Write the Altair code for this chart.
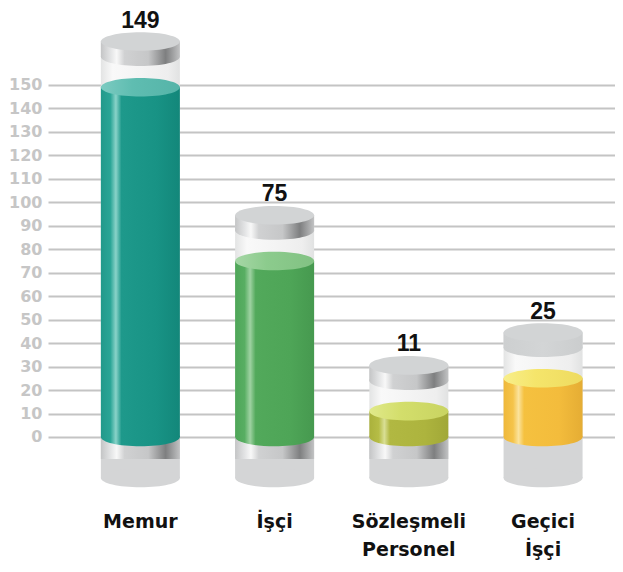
import altair as alt
import pandas as pd

categories = ["Memur", "İşçi", "Sözleşmeli Personel", "Geçici İşçi"]
values = [149, 75, 11, 25]
y_ticks = list(range(0, 151, 10))

df = pd.DataFrame({"cat": categories, "value": values})

# style palette (side gradient colours, top face colour)
PALETTE = {
    "Memur": {"side": ["#22998b", "#2aa596", "#8ad3c9", "#1e998b", "#189385", "#13877a"],
              "top": ["#7ccbc1", "#5fbdb1", "#55b4a8"]},
    "İşçi": {"side": ["#4ea658", "#58ae62", "#9fd2a2", "#52a95b", "#4ea557", "#46994f"],
             "top": ["#a6d7a6", "#8ccb8d", "#82c283"]},
    "Sözleşmeli Personel": {"side": ["#aab13c", "#b6bd46", "#d9df95", "#b1b842", "#adb43e", "#a1a837"],
                            "top": ["#e0e98a", "#d3de6b", "#c9d462"]},
    "Geçici İşçi": {"side": ["#efb83a", "#f5c44a", "#fbe39c", "#f5c13f", "#f3bc3c", "#e5ad34"],
                    "top": ["#f8ee8a", "#f5e56b", "#eedb60"]},
}


def hgrad(stops):
    return alt.Gradient(
        gradient="linear", x1=0, x2=1, y1=0, y2=0,
        stops=[alt.GradientStop(offset=o, color=c) for o, c in stops],
    )


def side_grad(c):
    return hgrad([(0, c[0]), (0.12, c[1]), (0.19, c[2]), (0.26, c[3]), (0.7, c[4]), (1, c[5])])


def top_grad(c):
    return hgrad([(0, c[0]), (0.4, c[1]), (1, c[2])])


SILVER = hgrad([(0, "#c4c5c6"), (0.12, "#e2e3e4"), (0.2, "#f8f8f8"), (0.3, "#d0d1d2"),
                (0.6, "#c6c7c8"), (0.82, "#7e7f80"), (0.92, "#a3a4a5"), (1, "#c2c3c4")])
GLASS = hgrad([(0, "#e3e4e4"), (0.15, "#f9f9f9"), (0.5, "#f4f4f4"), (0.85, "#eeeeee"), (1, "#e1e2e2")])
GRAY = "#d4d5d6"
CAPGRAY = hgrad([(0, "#cdcfd0"), (0.5, "#d3d5d6"), (1, "#cbcdce")])

k = 0.235
c = 0.552 * k
ELL = (f"M -1 0 C -1 {-c:.4f} -0.552 {-k} 0 {-k} C 0.552 {-k} 1 {-c:.4f} 1 0 "
       f"C 1 {c:.4f} 0.552 {k} 0 {k} C -0.552 {k} -1 {c:.4f} -1 0 Z")
W = 79
ESIZE = W * W

X = alt.X(
    "cat:N", sort=categories,
    scale=alt.Scale(paddingInner=0, paddingOuter=0.112, align=0.84),
    axis=alt.Axis(title=None, domain=False, ticks=False, grid=False, labelAngle=0,
                  labelPadding=22, labelFont="DejaVu Sans", labelFontSize=19,
                  labelFontWeight="bold", labelColor="#111111", labelLineHeight=28,
                  labelLimit=300, labelExpr="split(datum.label, ' ')"),
)
YSCALE = alt.Scale(domain=[-22.6, 181.1], nice=False, zero=False)
YAXIS = alt.Axis(values=y_ticks, title=None, grid=True, gridColor="#c4c4c4", gridWidth=2,
                 domain=False, ticks=False, labelPadding=6, labelFont="DejaVu Sans",
                 labelFontSize=16, labelFontWeight="bold", labelColor="#c6c6c6")


def Y(field):
    return alt.Y(field, type="quantitative", scale=YSCALE, axis=YAXIS)


base = alt.Chart(df).transform_calculate(
    cap="datum.value + 19.5",
    capLo="datum.value + 13",
    zero="0",
    baseY="-17.5",
    bandY="-9.4",
)


def ellipse(field, color):
    return base.mark_point(shape=ELL, size=ESIZE, filled=True, opacity=1, strokeWidth=0,
                           color=color).encode(x=X, y=Y(field))


def rect(lo, hi, color):
    return base.mark_bar(size=W, color=color).encode(x=X, y=Y(lo), y2=alt.Y2(hi))


layers = []
# glass tube
layers.append(rect("zero", "cap", GLASS))
# base
layers.append(rect("baseY", "zero", GRAY))
layers.append(ellipse("baseY", GRAY))
# silver band at bottom (not on last)
layers.append(rect("bandY", "zero", SILVER).transform_filter(alt.datum.cat != "Geçici İşçi"))

# liquids
for cat in categories:
    p = PALETTE[cat]
    sg = side_grad(p["side"])
    tg = top_grad(p["top"])
    f = alt.datum.cat == cat
    layers.append(ellipse("zero", sg).transform_filter(f))
    layers.append(rect("zero", "value", sg).transform_filter(f))
    layers.append(ellipse("value", tg).transform_filter(f))

# caps
notlast = alt.datum.cat != "Geçici İşçi"
last = alt.datum.cat == "Geçici İşçi"
layers.append(ellipse("capLo", SILVER).transform_filter(notlast))
layers.append(rect("capLo", "cap", SILVER).transform_filter(notlast))
layers.append(ellipse("capLo", CAPGRAY).transform_filter(last))
layers.append(rect("capLo", "cap", CAPGRAY).transform_filter(last))
layers.append(ellipse("cap", "#d2d4d5"))

# value labels
layers.append(
    base.mark_text(font="Liberation Sans", fontSize=23, fontWeight="bold",
                   baseline="alphabetic", dy=-14, color="#111111")
    .encode(x=X, y=Y("cap"), text=alt.Text("value:Q"))
)

chart = alt.layer(*layers).properties(
    width=567, height=478,
    padding={"left": 40, "top": 4, "right": 0, "bottom": 74},
    autosize=alt.AutoSizeParams(type="none"),
).configure_view(stroke=None)

chart.save("out.html", embed_options={"renderer": "svg", "actions": False})
